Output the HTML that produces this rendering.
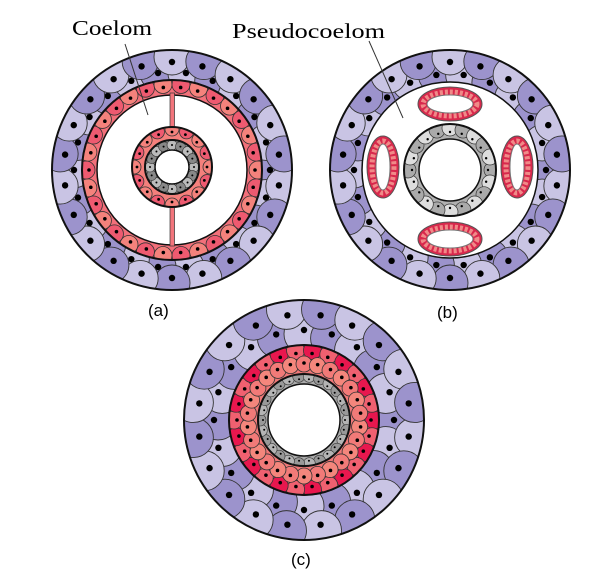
<!DOCTYPE html>
<html><head><meta charset="utf-8">
<style>
html,body{margin:0;padding:0;background:#fff;}
svg{display:block;}
</style></head>
<body>
<svg id="s" width="604" height="570" viewBox="0 0 604 570" xmlns="http://www.w3.org/2000/svg">
<defs id="d"></defs>
<g id="g"></g>
<text x="72" y="35" font-family="Liberation Serif, serif" font-size="21" textLength="80" lengthAdjust="spacingAndGlyphs" fill="#000">Coelom</text>
<text x="232" y="38" font-family="Liberation Serif, serif" font-size="21" textLength="153" lengthAdjust="spacingAndGlyphs" fill="#000">Pseudocoelom</text>
<text x="148" y="316" font-family="Liberation Sans, sans-serif" font-size="17" fill="#000">(a)</text>
<text x="437" y="318" font-family="Liberation Sans, sans-serif" font-size="17" fill="#000">(b)</text>
<text x="291" y="565" font-family="Liberation Sans, sans-serif" font-size="17" fill="#000">(c)</text>
</svg>
<script>
var NS="http://www.w3.org/2000/svg",g=document.getElementById('g'),d=document.getElementById('d'),cid=0;
function el(t,a,p){var e=document.createElementNS(NS,t);for(var k in a)e.setAttribute(k,a[k]);(p||g).appendChild(e);return e;}
function ringPath(cx,cy,r1,r2){return "M"+(cx+r2)+" "+cy+" A"+r2+" "+r2+" 0 1 0 "+(cx-r2)+" "+cy+" A"+r2+" "+r2+" 0 1 0 "+(cx+r2)+" "+cy+" Z M"+(cx+r1)+" "+cy+" A"+r1+" "+r1+" 0 1 1 "+(cx-r1)+" "+cy+" A"+r1+" "+r1+" 0 1 1 "+(cx+r1)+" "+cy+" Z";}
function cells(cx,cy,r1,r2,bg,rows,sw){
  var id="c"+(cid++);var cp=el('clipPath',{id:id},d);el('path',{d:ringPath(cx,cy,r1,r2),'fill-rule':'evenodd'},cp);
  el('path',{d:ringPath(cx,cy,r1,r2),'fill-rule':'evenodd',fill:bg});
  var grp=el('g',{'clip-path':'url(#'+id+')'});
  rows.forEach(function(rw){
    for(var i=0;i<rw.n;i++){var a=(i+rw.off)/rw.n*2*Math.PI;
      var x=cx+rw.r*Math.cos(a),y=cy+rw.r*Math.sin(a);
      el('circle',{cx:x,cy:y,r:rw.cr,fill:rw.cols[i%rw.cols.length],stroke:'#333','stroke-width':sw||0.8},grp);
      var dr=rw.dr===undefined?rw.r:rw.dr;
      el('circle',{cx:cx+dr*Math.cos(a),cy:cy+dr*Math.sin(a),r:rw.dot,fill:'#000'},grp);}
  });
  el('circle',{cx:cx,cy:cy,r:r2,fill:'none',stroke:'#111','stroke-width':2});
  el('circle',{cx:cx,cy:cy,r:r1,fill:'none',stroke:'#111','stroke-width':1.5});
}
var P1='#c9c4e4',P2='#9c93cc';
function purple(cx,cy,r1){
  cells(cx,cy,r1,120,P1,[
   {n:22,off:0,r:r1+8,cr:18,cols:[P2,P1],dot:3.2},
   {n:22,off:0.5,r:113,cr:18,cols:[P1,P2],dot:3.2,dr:108}],0.9);
}
purple(172,170,90);
cells(172,170,75,90,'#f2707a',[{n:30,off:0,r:86,cr:9,cols:['#f4827c','#ee5a70'],dot:1.8,dr:83}]);
el('rect',{x:170,y:93,width:4.5,height:37,fill:'#f2757c',stroke:'#333','stroke-width':0.7});
el('rect',{x:170,y:205,width:4.5,height:41,fill:'#f2757c',stroke:'#333','stroke-width':0.7});
cells(172,167,27,40,'#f4807c',[{n:16,off:0,r:38,cr:7,cols:['#f4827c','#ee5a70'],dot:1.4,dr:35}]);
cells(172,167,17,27,'#aaa',[{n:16,off:0,r:22,cr:5,cols:['#bbb','#888'],dot:1,dr:22}],0.6);
el('line',{x1:125,y1:44,x2:148,y2:115,stroke:'#333','stroke-width':1});
purple(450,170,88);
cells(450,170,31,46,'#b0b0b0',[{n:20,off:0,r:42,cr:8,cols:['#aaa','#ddd'],dot:1.2,dr:38}],0.7);
function oval(cx,cy,rx,ry){
  el('ellipse',{cx:cx,cy:cy,rx:rx,ry:ry,fill:'#d8284c',stroke:'#555','stroke-width':1});
  el('ellipse',{cx:cx,cy:cy,rx:rx-5,ry:ry-5,fill:'none',stroke:'#f08a88','stroke-width':5,'stroke-dasharray':'3 2'});
  el('ellipse',{cx:cx,cy:cy,rx:rx-9,ry:ry-8,fill:'#fff',stroke:'#777','stroke-width':1});
}
oval(450,104,32,17);oval(450,239,32,17);oval(383,167,16,31);oval(517,167,16,31);
el('line',{x1:369,y1:41,x2:403,y2:118,stroke:'#333','stroke-width':1});
cells(304,420,75,120,P1,[
 {n:20,off:0,r:86,cr:20,cols:[P2,P1],dot:3.2,dr:90},
 {n:20,off:0.5,r:112,cr:20,cols:[P1,P2],dot:3.2,dr:106}],0.9);
cells(304,420,46,75,'#f07878',[
 {n:26,off:0,r:70,cr:9,cols:['#e8174e','#f06070'],dot:1.8,dr:67},
 {n:26,off:0.5,r:56,cr:8,cols:['#f4867c','#f27a78'],dot:1.8,dr:57}]);
cells(304,420,36,46,'#aaa',[{n:26,off:0,r:44,cr:6,cols:['#b4b4b4','#999'],dot:1,dr:41}],0.6);
</script>
</body></html>
